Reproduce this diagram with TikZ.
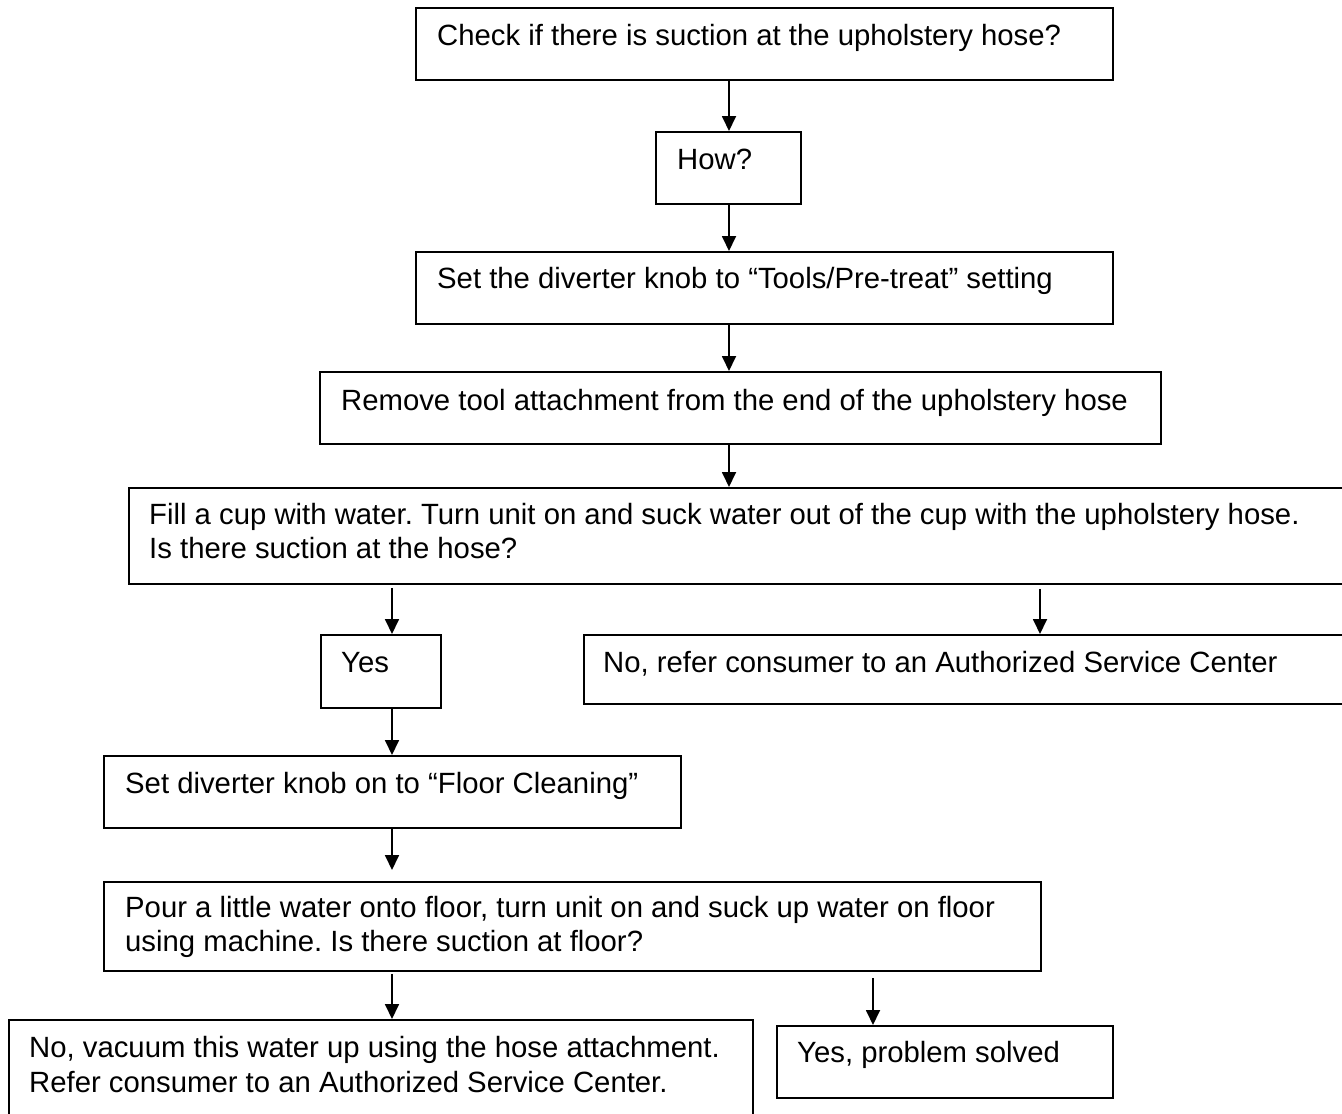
\documentclass[tikz,border=0pt]{standalone}
\usepackage{fontspec}
\setmainfont{Liberation Sans}
\usetikzlibrary{arrows.meta,calc}
\frenchspacing
\begin{document}
\begin{tikzpicture}[x=1pt,y=-1pt,
  box/.style={draw, line width=1.8pt, rectangle, inner sep=0pt, anchor=north west},
  txt/.style={anchor=base west, inner sep=0pt, font=\fontsize{29.3}{34}\selectfont},
  arr/.style={line width=1.8pt, -{Triangle[length=15pt,width=14pt]}}]
\clip (0,0) rectangle (1342,1114);
\fill[white] (0,0) rectangle (1342,1114);

% arrow columns
\coordinate (colA) at (729,0);
\coordinate (colB) at (392,0);
\coordinate (colC) at (1040,0);
\coordinate (colD) at (873,0);

% boxes
\node[box, minimum width=697, minimum height=72] (check) at (415,7) {};
\node[box, minimum width=145, minimum height=72] (how) at (655,131) {};
\node[box, minimum width=697, minimum height=72] (divert) at (415,251) {};
\node[box, minimum width=841, minimum height=72] (remove) at (319,371) {};
\node[box, minimum width=1240, minimum height=96] (cup) at (128,487) {};
\node[box, minimum width=120, minimum height=73] (yes) at (320,634) {};
\node[box, minimum width=780, minimum height=69] (no) at (583,634) {};
\node[box, minimum width=577, minimum height=72] (floor) at (103,755) {};
\node[box, minimum width=937, minimum height=89] (pour) at (103,881) {};
\node[box, minimum width=744, minimum height=120] (novac) at (8,1019) {};
\node[box, minimum width=336, minimum height=72] (solved) at (776,1025) {};

% texts
\node[txt] (tcheck) at (437,45) {Check if there is suction at the upholstery hose?};
\node[txt] (thow) at (677,169) {How?};
\node[txt] (tdivert) at (437,288) {Set the diverter knob to “Tools/Pre-treat” setting};
\node[txt] (tremove) at (341,410) {Remove tool attachment from the end of the upholstery hose};
\node[txt] (tcupa) at (149,524) {Fill a cup with water. Turn unit on and suck water out of the cup with the upholstery hose.};
\node[txt] (tcupb) at (149,558) {Is there suction at the hose?};
\node[txt] (tyes) at (341,672) {Yes};
\node[txt] (tno) at (603,672) {No, refer consumer to an Authorized Service Center};
\node[txt] (tfloor) at (125,793) {Set diverter knob on to “Floor Cleaning”};
\node[txt] (tpoura) at (125,917) {Pour a little water onto floor, turn unit on and suck up water on floor};
\node[txt] (tpourb) at (125,951) {using machine. Is there suction at floor?};
\node[txt] (tnovaca) at (29,1057) {No, vacuum this water up using the hose attachment.};
\node[txt] (tnovacb) at (29,1092) {Refer consumer to an Authorized Service Center.};
\node[txt] (tsolved) at (797,1062) {Yes, problem solved};

% connectors
\draw[arr] (check.south -| colA) -- (how.north -| colA);
\draw[arr] (how.south -| colA) -- (divert.north -| colA);
\draw[arr] (divert.south -| colA) -- (remove.north -| colA);
\draw[arr] (remove.south -| colA) -- (cup.north -| colA);
\draw[arr, shorten <=3pt] (cup.south -| colB) -- (yes.north -| colB);
\draw[arr, shorten <=4pt] (cup.south -| colC) -- (no.north -| colC);
\draw[arr] (yes.south -| colB) -- (floor.north -| colB);
\draw[arr, shorten >=11pt] (floor.south -| colB) -- (pour.north -| colB);
\draw[arr, shorten <=2pt] (pour.south -| colB) -- (novac.north -| colB);
\draw[arr, shorten <=6pt] (pour.south -| colD) -- (solved.north -| colD);
\end{tikzpicture}
\end{document}
